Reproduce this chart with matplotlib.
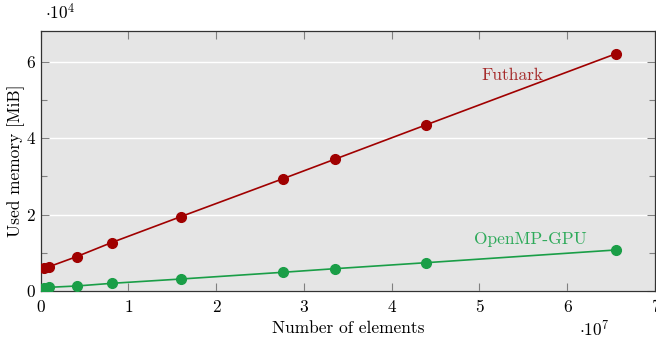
import matplotlib
matplotlib.use("Agg")
import matplotlib.pyplot as plt
from matplotlib.ticker import MultipleLocator

plt.rcParams['mathtext.fontset'] = 'cm'
plt.rcParams['font.family'] = ['cmr10', 'DejaVu Serif']
plt.rcParams['axes.unicode_minus'] = False

# Problem sizes (number of elements)
elements = [0.4e6, 1.0e6, 4.1e6, 8.1e6, 16.0e6, 27.6e6, 33.5e6, 43.9e6, 65.5e6]
# Peak memory use in MiB
futhark_mib = [5950, 6400, 9000, 12700, 19500, 29400, 34500, 43500, 62100]
openmp_gpu_mib = [860, 970, 1310, 2010, 3140, 4900, 5840, 7410, 10740]

x_ticks = [0, 1, 2, 3, 4, 5, 6, 7]
y_ticks = [0, 2, 4, 6]

red = '#a00000'
green = '#1a9e47'
fs = 12.5

fig = plt.figure(figsize=(6.56, 3.39), dpi=100)
ax = fig.add_axes([0.062, 0.1416, 0.9365, 0.767])
ax.set_facecolor('#e5e5e5')

ax.plot(elements, futhark_mib, color=red, lw=1.2, marker='o', ms=7, zorder=3)
ax.plot(elements, openmp_gpu_mib, color=green, lw=1.2, marker='o', ms=7, zorder=3)

ax.set_xlim(0, 7e7)
ax.set_ylim(0, 68100)
ax.set_xticks([v * 1e7 for v in x_ticks])
ax.set_xticklabels([str(v) for v in x_ticks])
ax.set_yticks([v * 1e4 for v in y_ticks])
ax.set_yticklabels([str(v) for v in y_ticks])
ax.yaxis.set_minor_locator(MultipleLocator(1e4))

ax.grid(axis='y', which='major', color='white', lw=1.0, zorder=0)
ax.set_axisbelow(True)

ax.tick_params(which='both', direction='in', top=True, right=True,
               color='#808080', labelsize=fs)
ax.tick_params(axis='x', pad=6)
ax.tick_params(axis='y', pad=4)
ax.tick_params(which='major', length=6, width=0.8)
ax.tick_params(which='minor', length=4, width=0.8)
for s in ax.spines.values():
    s.set_color('#333333')
    s.set_linewidth(0.9)

ax.set_xlabel('Number of elements', fontsize=fs, labelpad=4)
ax.set_ylabel('Used memory [MiB]', fontsize=fs, labelpad=1)

fig.text(0.068, 0.935, r'$\cdot 10^4$', fontsize=fs, ha='left', va='bottom')
fig.text(0.882, 0.0, r'$\cdot 10^7$', fontsize=fs, ha='left', va='bottom')

ax.text(5.37e7, 56600, 'Futhark', color='#a52a2a', fontsize=fs, ha='center', va='center')
ax.text(5.58e7, 13400, 'OpenMP-GPU', color='#2eaa5a', fontsize=fs, ha='center', va='center')

fig.savefig('out.png', dpi=100)
